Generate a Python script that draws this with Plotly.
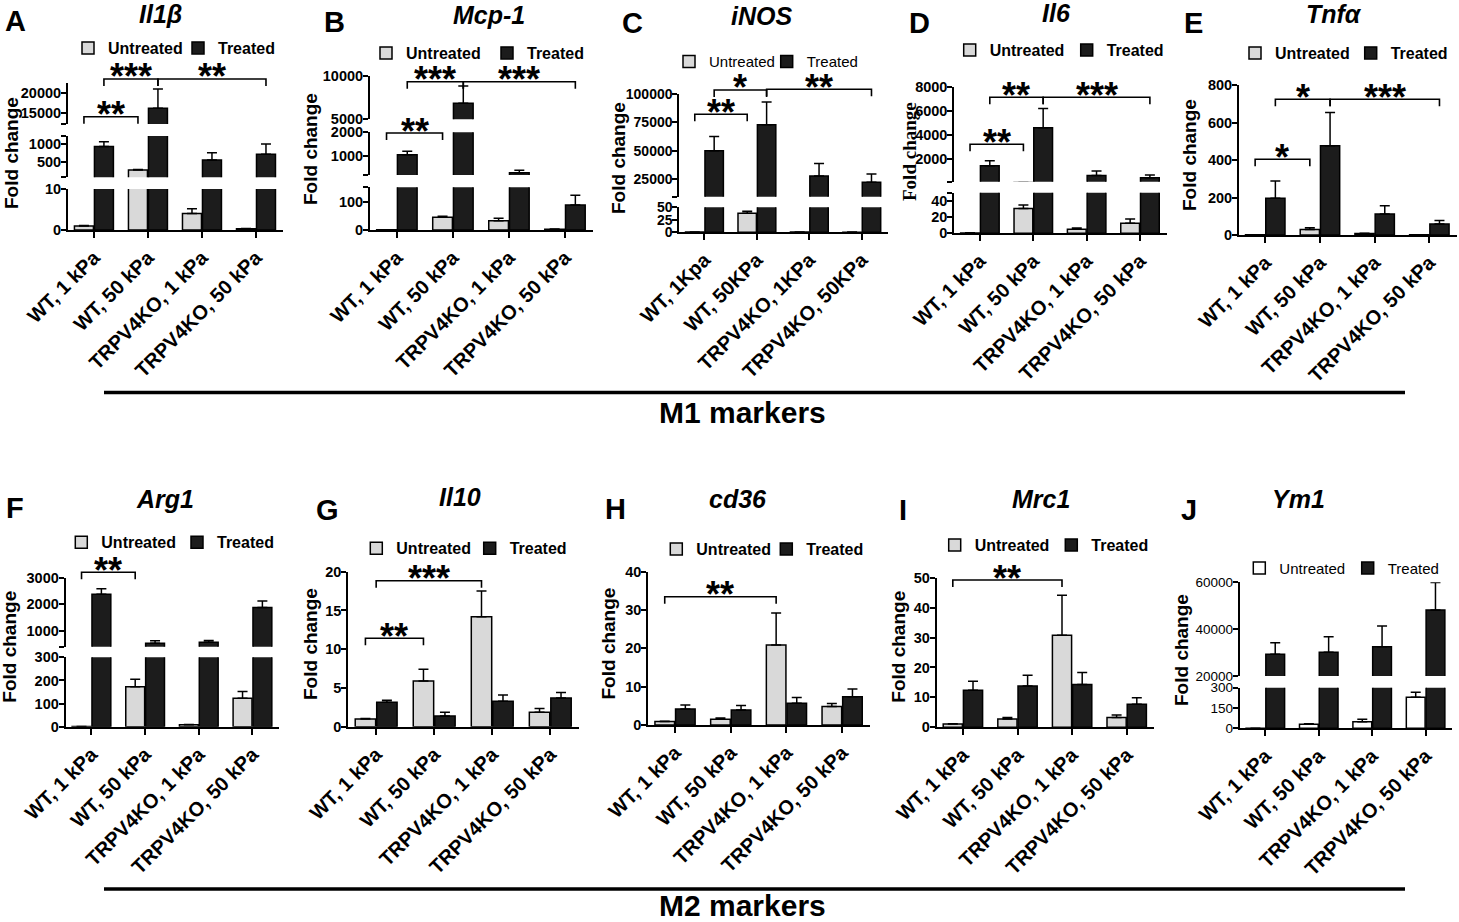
import plotly.graph_objects as go

W, H = 1459, 922

# ---------------- data ----------------
categories = ["WT, 1 kPa", "WT, 50 kPa", "TRPV4KO, 1 kPa", "TRPV4KO, 50 kPa"]
categories_inos = ["WT, 1Kpa", "WT, 50KPa", "TRPV4KO, 1KPa", "TRPV4KO, 50KPa"]

il1b_untreated = [1.0, 290, 4.0, 0.3]
il1b_untreated_err = [0.1, 15, 1.2, 0.05]
il1b_treated = [930, 16200, 560, 720]
il1b_treated_err = [130, 4700, 200, 280]

mcp1_untreated = [1.0, 46, 33, 3]
mcp1_untreated_err = [0.1, 4, 9, 0.5]
mcp1_treated = [1050, 6850, 300, 90]
mcp1_treated_err = [150, 2000, 100, 35]

inos_untreated = [0.5, 38, 0.5, 0.3]
inos_untreated_err = [0.1, 4, 0.1, 0.05]
inos_treated = [50000, 73000, 28000, 22400]
inos_treated_err = [12600, 20000, 11000, 7300]

il6_untreated = [0.5, 31, 5, 12.5]
il6_untreated_err = [0.1, 4.4, 1.6, 5.4]
il6_treated = [1440, 4610, 610, 440]
il6_treated_err = [420, 1610, 390, 230]

tnfa_untreated = [1, 30, 8, 1]
tnfa_untreated_err = [0.2, 9, 2, 0.2]
tnfa_treated = [196, 476, 112, 59]
tnfa_treated_err = [92, 178, 44, 19]

arg1_untreated = [1, 173, 8, 123]
arg1_untreated_err = [0.2, 32, 2, 29]
arg1_treated = [2380, 525, 566, 1874]
arg1_treated_err = [200, 98, 64, 251]

il10_untreated = [1.0, 5.9, 14.2, 1.86]
il10_untreated_err = [0.05, 1.5, 3.3, 0.5]
il10_treated = [3.15, 1.38, 3.3, 3.7]
il10_treated_err = [0.25, 0.5, 0.8, 0.7]

cd36_untreated = [0.9, 1.5, 20.9, 4.8]
cd36_untreated_err = [0.05, 0.3, 8.3, 0.8]
cd36_treated = [4.2, 3.9, 5.7, 7.4]
cd36_treated_err = [1.0, 1.2, 1.5, 2.0]

mrc1_untreated = [1.1, 2.8, 30.8, 3.3]
mrc1_untreated_err = [0.1, 0.5, 13.3, 0.8]
mrc1_treated = [12.4, 13.8, 14.3, 7.7]
mrc1_treated_err = [3.0, 3.6, 4.0, 2.2]

ym1_untreated = [1, 30, 49, 229]
ym1_untreated_err = [0.2, 4, 17, 37]
ym1_treated = [29270, 30100, 32500, 48200]
ym1_treated_err = [4930, 6700, 8800, 11700]

# significance comparisons: ((group, series), (group, series), label)
il1b_sig = [((0, "u"), (1, "u"), "**"), ((0, "t"), (1, "t"), "***"), ((1, "t"), (3, "t"), "**")]
mcp1_sig = [((0, "u"), (1, "u"), "**"), ((0, "t"), (1, "t"), "***"), ((1, "t"), (3, "t"), "***")]
inos_sig = [((0, "u"), (1, "u"), "**"), ((0, "t"), (1, "t"), "*"), ((1, "t"), (3, "t"), "**")]
il6_sig = [((0, "u"), (1, "u"), "**"), ((0, "t"), (1, "t"), "**"), ((1, "t"), (3, "t"), "***")]
tnfa_sig = [((0, "u"), (1, "u"), "*"), ((0, "t"), (1, "t"), "*"), ((1, "t"), (3, "t"), "***")]
arg1_sig = [((0, "u"), (1, "u"), "**")]
il10_sig = [((0, "u"), (1, "u"), "**"), ((0, None), (2, "u"), "***")]
cd36_sig = [((0, "u"), (2, "u"), "**")]
mrc1_sig = [((0, "u"), (2, "u"), "**")]
ym1_sig = []

# ---------------- styling / layout ----------------
FONT = "Liberation Sans, Arial, sans-serif"
SERIF = "Liberation Serif, Times New Roman, serif"
GRAY = "#d9d9d9"
DARK = "#1c1c1c"
BAR_OFF = 0.185


def px(x):
    return x / W


def py(y):
    return 1 - y / H


panels = [
    dict(letter="A", title="Il1β", cats=categories, u=il1b_untreated, ue=il1b_untreated_err,
         t=il1b_treated, te=il1b_treated_err, sig=il1b_sig, levels=[116.7, 79, 79],
         x0=68, x1=283, title_xy=(160, 14), letter_xy=(15, 21), ytitle_xy=(12, 153),
         legend=(80, 48, 110, True, 16), untreated_fill=GRAY, tick_bold=True, serif_title=False, tick_size=14.5,
         segs=[dict(b=230, t=189, r=[0, 10], tv=[0, 10], tt=["0", "10"]),
               dict(b=177.3, t=136, r=[90, 1220], tv=[90, 500, 1000, 1220], tt=["", "500", "1000", ""]),
               dict(b=124, t=82.7, r=[12400, 22400], tv=[12400, 15000, 20000], tt=["", "15000", "20000"])]),
    dict(letter="B", title="Mcp-1", cats=categories, u=mcp1_untreated, ue=mcp1_untreated_err,
         t=mcp1_treated, te=mcp1_treated_err, sig=mcp1_sig, levels=[133, 81.7, 81.7],
         x0=370, x1=593, title_xy=(489, 15), letter_xy=(334, 22), ytitle_xy=(310, 149),
         legend=(378, 53, 121, True, 16), untreated_fill=GRAY, tick_bold=True, serif_title=False, tick_size=14.5,
         segs=[dict(b=230, t=187.3, r=[0, 154], tv=[0, 100, 154], tt=["0", "100", ""]),
               dict(b=175, t=132.3, r=[200, 2000], tv=[200, 1000, 2000], tt=["", "1000", "2000"]),
               dict(b=119.3, t=76, r=[5000, 10000], tv=[5000, 10000], tt=["5000", "10000"])]),
    dict(letter="C", title="iNOS", cats=categories_inos, u=inos_untreated, ue=inos_untreated_err,
         t=inos_treated, te=inos_treated_err, sig=inos_sig, levels=[114.3, 90, 89.3],
         x0=679.3, x1=888, title_xy=(761, 16), letter_xy=(632.5, 23), ytitle_xy=(618, 158),
         legend=(681, 61.7, 97.7, False, 15), untreated_fill=GRAY, tick_bold=True, serif_title=False, tick_size=14,
         segs=[dict(b=232.3, t=207.3, r=[0, 50], tv=[0, 25, 50], tt=["0", "25", "50"]),
               dict(b=196.7, t=94, r=[9700, 100000], tv=[9700, 25000, 50000, 75000, 100000],
                    tt=["", "25000", "50000", "75000", "100000"])]),
    dict(letter="D", title="Il6", cats=categories, u=il6_untreated, ue=il6_untreated_err,
         t=il6_treated, te=il6_treated_err, sig=il6_sig, levels=[144.3, 97.3, 97.3],
         x0=954.3, x1=1166.7, title_xy=(1056.7, 13), letter_xy=(919, 23), ytitle_xy=(910, 152),
         legend=(961.7, 50, 117, True, 16), untreated_fill=GRAY, tick_bold=True, serif_title=True, tick_size=14.5,
         segs=[dict(b=233.3, t=192.7, r=[0, 50.75], tv=[0, 20, 40, 50.75], tt=["0", "20", "40", ""]),
               dict(b=181.7, t=87.3, r=[100, 8000], tv=[100, 2000, 4000, 6000, 8000],
                    tt=["", "2000", "4000", "6000", "8000"])]),
    dict(letter="E", title="Tnfα", cats=categories, u=tnfa_untreated, ue=tnfa_untreated_err,
         t=tnfa_treated, te=tnfa_treated_err, sig=tnfa_sig, levels=[159.3, 99.3, 99.3],
         x0=1239, x1=1456.7, title_xy=(1334, 14), letter_xy=(1193, 22.5), ytitle_xy=(1189, 155),
         legend=(1247, 53, 115.7, True, 16), untreated_fill=GRAY, tick_bold=True, serif_title=False, tick_size=14.5,
         segs=[dict(b=235, t=85, r=[0, 800], tv=[0, 200, 400, 600, 800], tt=["0", "200", "400", "600", "800"])]),
    dict(letter="F", title="Arg1", cats=categories, u=arg1_untreated, ue=arg1_untreated_err,
         t=arg1_treated, te=arg1_treated_err, sig=arg1_sig, levels=[572.3],
         x0=65.7, x1=279.3, title_xy=(165, 499), letter_xy=(14.5, 508), ytitle_xy=(10, 646.7),
         legend=(73.3, 542.3, 115.7, True, 16), untreated_fill=GRAY, tick_bold=True, serif_title=False, tick_size=14.5,
         segs=[dict(b=726.7, t=657.3, r=[0, 300], tv=[0, 100, 200, 300], tt=["0", "100", "200", "300"]),
               dict(b=646.7, t=577.7, r=[396, 3000], tv=[396, 1000, 2000, 3000], tt=["", "1000", "2000", "3000"])]),
    dict(letter="G", title="Il10", cats=categories, u=il10_untreated, ue=il10_untreated_err,
         t=il10_treated, te=il10_treated_err, sig=il10_sig, levels=[638.3, 580.7],
         x0=348.3, x1=579.3, title_xy=(460, 497.5), letter_xy=(327.5, 510), ytitle_xy=(310, 644),
         legend=(368.3, 548.3, 113.4, True, 16), untreated_fill=GRAY, tick_bold=True, serif_title=False, tick_size=14.5,
         segs=[dict(b=726.7, t=571.7, r=[0, 20], tv=[0, 5, 10, 15, 20], tt=["0", "5", "10", "15", "20"])]),
    dict(letter="H", title="cd36", cats=categories, u=cd36_untreated, ue=cd36_untreated_err,
         t=cd36_treated, te=cd36_treated_err, sig=cd36_sig, levels=[596.7],
         x0=648.3, x1=870, title_xy=(737.5, 499), letter_xy=(615, 509), ytitle_xy=(607.5, 644),
         legend=(668.3, 549, 110, True, 16), untreated_fill=GRAY, tick_bold=True, serif_title=False, tick_size=14.5,
         segs=[dict(b=725, t=571.7, r=[0, 40], tv=[0, 10, 20, 30, 40], tt=["0", "10", "20", "30", "40"])]),
    dict(letter="I", title="Mrc1", cats=categories, u=mrc1_untreated, ue=mrc1_untreated_err,
         t=mrc1_treated, te=mrc1_treated_err, sig=mrc1_sig, levels=[580],
         x0=936.7, x1=1154, title_xy=(1040.5, 499), letter_xy=(902.5, 510), ytitle_xy=(899, 646.7),
         legend=(946.7, 545, 116.6, True, 16), untreated_fill=GRAY, tick_bold=True, serif_title=False, tick_size=14.5,
         segs=[dict(b=727.3, t=577.7, r=[0, 50], tv=[0, 10, 20, 30, 40, 50],
                    tt=["0", "10", "20", "30", "40", "50"])]),
    dict(letter="J", title="Ym1", cats=categories, u=ym1_untreated, ue=ym1_untreated_err,
         t=ym1_treated, te=ym1_treated_err, sig=ym1_sig, levels=[],
         x0=1239.7, x1=1452.3, title_xy=(1298, 499), letter_xy=(1189, 510), ytitle_xy=(1181, 650),
         legend=(1251.3, 568.3, 108.4, False, 15), untreated_fill="#ffffff", tick_bold=False, serif_title=False,
         tick_size=13.5,
         segs=[dict(b=728.3, t=687.7, r=[0, 300], tv=[0, 150, 300], tt=["0", "150", "300"]),
               dict(b=676, t=582.3, r=[20000, 60000], tv=[20000, 40000, 60000], tt=["20000", "40000", "60000"])]),
]

fig = go.Figure()
layout = dict(
    width=W, height=H, margin=dict(l=0, r=0, t=0, b=0, autoexpand=False),
    paper_bgcolor="white", plot_bgcolor="white",
    barmode="group", bargap=0.26, bargroupgap=0.05,
    font=dict(family=FONT, color="black"),
)
annotations = []
shapes = []

ax_i = 0
for pi, p in enumerate(panels):
    legend_name = "legend" if pi == 0 else f"legend{pi + 1}"
    bold = "bold" if p["tick_bold"] else "normal"
    lx, ly, spacing, lbold, lsize = p["legend"]
    bottom_x = None
    for si, seg in enumerate(p["segs"]):
        ax_i += 1
        sfx = "" if ax_i == 1 else str(ax_i)
        xname, yname = "x" + sfx, "y" + sfx
        is_bottom = si == 0
        if is_bottom:
            bottom_x = xname
        layout["xaxis" + sfx] = dict(
            domain=[px(p["x0"]), px(p["x1"])], range=[-0.48, 3.5], type="category",
            categoryorder="array", categoryarray=p["cats"], anchor=yname,
            showline=is_bottom, linecolor="black", linewidth=2,
            ticks="outside" if is_bottom else "", ticklen=6, tickwidth=2, tickcolor="black",
            showticklabels=is_bottom, tickangle=-45,
            tickfont=dict(family=FONT, size=20, weight="bold", color="black"),
            showgrid=False, zeroline=False, fixedrange=True,
        )
        layout["yaxis" + sfx] = dict(
            domain=[py(seg["b"]), py(seg["t"])], range=seg["r"], anchor=xname,
            showline=True, linewidth=2, linecolor="black",
            ticks="outside", ticklen=5, tickwidth=2, tickcolor="black",
            tickmode="array", tickvals=seg["tv"], ticktext=seg["tt"], ticklabelstandoff=-3,
            tickfont=dict(family=FONT, size=p["tick_size"], weight=bold, color="black"),
            showgrid=False, zeroline=False, fixedrange=True,
        )
        for name, vals, errs, fill, lw in (("Untreated", p["u"], p["ue"], p["untreated_fill"], spacing - 45),
                                          ("Treated", p["t"], p["te"], DARK, 60)):
            fig.add_trace(go.Bar(
                x=p["cats"], y=vals, name=name, xaxis=xname, yaxis=yname,
                offsetgroup=name, legend=legend_name, showlegend=is_bottom, legendwidth=lw,
                marker=dict(color=fill, line=dict(color="black", width=1.5)),
                error_y=dict(type="data", array=errs, arrayminus=[0] * len(errs), symmetric=False,
                             color="black", thickness=1.5, width=5),
                hoverinfo="skip",
            ))

    # legend
    layout[legend_name] = dict(
        x=px(lx - 12), y=py(ly), xanchor="left", yanchor="middle", orientation="h",
        font=dict(family=FONT, size=lsize, weight="bold" if lbold else "normal", color="black"),
        bgcolor="rgba(0,0,0,0)", borderwidth=0, entrywidthmode="pixels",
        traceorder="normal", itemclick=False, itemdoubleclick=False,
    )

    # significance brackets
    for (a, b, label), lvl in zip(p["sig"], p["levels"]):
        def pos(ref):
            g, s = ref
            return g + (0 if s is None else (-BAR_OFF if s == "u" else BAR_OFF))
        xa, xb = pos(a), pos(b)
        y0 = py(lvl)
        yd = py(lvl + 7)
        shapes.append(dict(type="path", xref=bottom_x, yref="paper",
                           path=f"M{xa},{yd} L{xa},{y0} L{xb},{y0} L{xb},{yd}",
                           line=dict(color="black", width=1.6)))
        annotations.append(dict(text=label, x=(xa + xb) / 2, y=py(lvl - 2), xref=bottom_x, yref="paper",
                                showarrow=False, xanchor="center", yanchor="middle",
                                font=dict(family=FONT, size=36, weight="bold", color="black")))

    # titles, letters, y titles
    tx, ty = p["title_xy"]
    annotations.append(dict(text=p["title"], x=px(tx), y=py(ty), xref="paper", yref="paper",
                            showarrow=False, xanchor="center", yanchor="middle",
                            font=dict(family=FONT, size=25, weight="bold", style="italic", color="black")))
    lx2, ly2 = p["letter_xy"]
    annotations.append(dict(text=p["letter"], x=px(lx2), y=py(ly2), xref="paper", yref="paper",
                            showarrow=False, xanchor="center", yanchor="middle",
                            font=dict(family=FONT, size=29, weight="bold", color="black")))
    yx, yy = p["ytitle_xy"]
    annotations.append(dict(text="Fold change", x=px(yx), y=py(yy), xref="paper", yref="paper",
                            showarrow=False, xanchor="center", yanchor="middle", textangle=-90,
                            font=dict(family=SERIF if p["serif_title"] else FONT, size=19,
                                      weight="bold", color="black")))

# group lines and labels
for label, ly_line, ly_text in (("M1 markers", 392.5, 412), ("M2 markers", 889, 905)):
    shapes.append(dict(type="line", xref="paper", yref="paper", x0=px(104), x1=px(1405),
                       y0=py(ly_line), y1=py(ly_line), line=dict(color="black", width=3.5)))
    annotations.append(dict(text=label, x=px(742), y=py(ly_text), xref="paper", yref="paper",
                            showarrow=False, xanchor="center", yanchor="middle",
                            font=dict(family=FONT, size=30, weight="bold", color="black")))

layout["annotations"] = annotations
layout["shapes"] = shapes
fig.update_layout(**layout)
fig.write_html("out.html", config={"displayModeBar": False},
               post_script="document.body.style.margin='0';document.body.style.overflow='hidden';")
